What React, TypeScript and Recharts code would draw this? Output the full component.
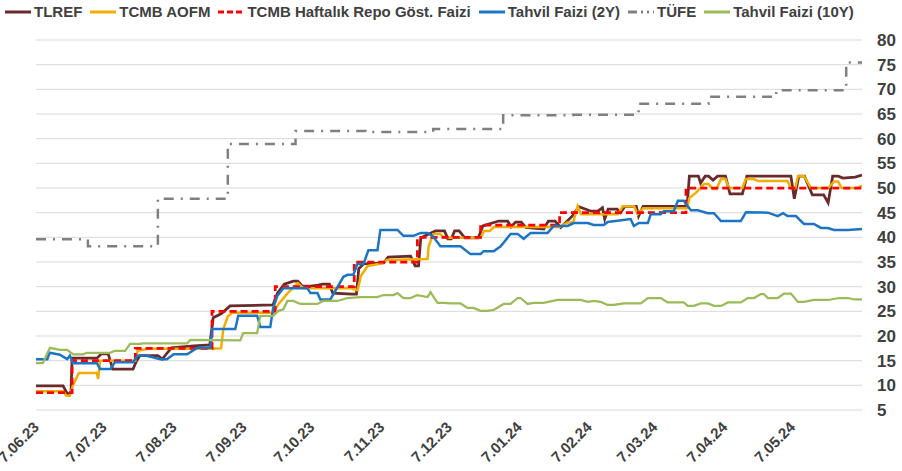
import { LineChart, Line, XAxis, YAxis, CartesianGrid } from 'recharts'

// x = days since 7 Jun 2023, y = percent
const X_TICKS = [0, 30, 61, 92, 122, 153, 183, 214, 245, 274, 305, 335]
const X_LABELS = ['7.06.23', '7.07.23', '7.08.23', '7.09.23', '7.10.23', '7.11.23', '7.12.23', '7.01.24', '7.02.24', '7.03.24', '7.04.24', '7.05.24']
const Y_TICKS = [5, 10, 15, 20, 25, 30, 35, 40, 45, 50, 55, 60, 65, 70, 75, 80]

const tlref: [number, number][] = [
  [0, 9.9], [12, 9.9], [14, 8.2], [15.5, 8.5], [16, 15.5], [27, 15.5], [29, 16.4], [32, 16.4], [34, 13.3], [43, 13.3],
  [44.5, 14.9], [46, 16], [54, 16], [56, 15.3], [58, 16.5], [60, 17.6], [70, 18], [77, 18.2], [78.5, 23.7], [82, 24.5],
  [86, 26.1], [105, 26.3], [107, 28.7], [110, 30.5], [114, 31.1], [116, 31.1], [118, 30.1], [122, 30.1], [125, 30.3],
  [127, 30.5], [130, 30.5], [131.5, 28.7], [140, 28.5], [142, 28.5], [143, 33.6], [145, 34.6], [154, 34.8], [156, 36],
  [166, 36.2], [168, 34.2], [169.5, 34.2], [170.5, 39.9], [177, 41.3], [181, 41.3], [182.5, 39.7], [184, 39.7],
  [185.5, 41.3], [187.5, 41.3], [190, 39.9], [196, 39.9], [198, 42.3], [205, 43.3], [209, 43.3], [210.5, 42.1],
  [212.5, 43.1], [215, 43.1], [217, 42], [225, 41.7], [227, 43.3], [230, 43.3], [232.5, 42], [238, 44.5], [240.5, 46.2],
  [246, 45.3], [249, 45.3], [251, 46], [252, 43.7], [253.5, 45.7], [257.5, 45.7], [259, 45], [261, 46.3], [266, 46.3],
  [267, 44.3], [269, 46.3], [288.5, 46.3], [289.5, 52.4], [293.5, 52.4], [294.5, 51], [296.5, 52.4], [298, 52.4],
  [300, 51.6], [302, 52.4], [305.5, 52.4], [307.5, 48.8], [313, 48.8], [315, 52.4], [334.5, 52.4], [336, 47.8],
  [338, 52.4], [340.5, 52.4], [344, 48.6], [349, 48.6], [351, 47], [353, 52.4], [355.5, 52.4], [357.5, 52],
  [363, 52.2], [366, 52.6],
]

const aofm: [number, number][] = [
  [0, 8.8], [12, 8.8], [13.5, 7.9], [15, 7.9], [16.5, 10.2], [19, 12.5], [27, 12.5], [27.5, 11.3], [28.4, 15], [44, 15],
  [45, 17], [50, 17.4], [77, 17.4], [82, 17.5], [83, 21.4], [85, 24], [87, 24.7], [105, 24.7], [107.5, 26.5],
  [111.5, 28.7], [116, 30.7], [118.5, 29.7], [139, 29.7], [142.5, 29.3], [144, 32.2], [147, 34.2], [153, 34.7],
  [155.5, 35.4], [173.5, 35.6], [174, 38.2], [176, 40.7], [179, 40.7], [181, 39.9], [197, 39.9], [198.5, 41.3],
  [201, 41.3], [203, 42.1], [232, 42.1], [235.5, 43], [238, 43], [240, 46.3], [241.5, 44.7], [257.8, 44.7], [260, 46.3],
  [265, 46.3], [266.6, 44.7], [269, 45.9], [288.5, 45.9], [289.5, 48], [292.4, 49], [296, 50.8], [298, 50.8],
  [300, 49.8], [301.5, 49.8], [303.5, 51.8], [305.5, 51.8], [307, 50], [313, 50], [314.5, 51.8], [318, 51.8],
  [320, 51.4], [333, 51.4], [334.5, 50], [336.5, 50], [337.6, 52.4], [340.3, 52.4], [343.4, 50], [351, 50],
  [353.6, 51.3], [355.4, 51.3], [357, 50], [364, 50], [366, 50.5],
]

const repo: [number, number][] = [
  [0, 8.5], [16, 15], [44, 17.5], [78, 25], [106, 30], [141, 35], [169, 40], [197, 42.5], [232, 45], [288, 50], [366, 50],
]

const bond2y: [number, number][] = [
  [0, 15.3], [5, 15.3], [6, 16.6], [10.6, 16.2], [13.8, 15.3], [15, 16], [16.4, 14.5], [27, 14.5], [28.4, 13.3],
  [33, 13.3], [35, 14.7], [43, 14.7], [45, 16], [49, 16], [55, 15.3], [58, 15.3], [61, 16.3], [67, 16.3], [71.4, 17.6],
  [77.2, 17.6], [78.1, 21.4], [88.3, 21.4], [89.6, 24.1], [98, 24.1], [99.4, 21.8], [103.8, 21.8], [105.1, 25.7],
  [106.9, 28.1], [109.6, 29.7], [120.2, 29.7], [121.6, 28.7], [124.7, 28.7], [126, 27.4], [130.4, 27.4], [131.8, 28.5],
  [136.2, 32], [138, 32.4], [140.6, 32.4], [142.4, 34.6], [145.1, 34.6], [147.3, 37.4], [151.3, 37.4], [152.6, 41.5],
  [160.2, 41.5], [162.8, 40.3], [167.3, 40.3], [170.4, 40.9], [173.5, 40.9], [175.7, 40.3], [179.2, 38.2], [188.1, 38.2],
  [192.5, 36.6], [197, 36.6], [198.3, 37.2], [202.8, 37.2], [205.9, 38.2], [210.3, 40.7], [213.4, 40.7], [216.1, 39.7],
  [219.2, 40.9], [226.7, 40.9], [229.4, 42.3], [235.6, 42.3], [238.2, 42.9], [244.5, 42.9], [247.1, 42.5], [251.6, 42.5],
  [253.3, 43.1], [263.5, 43.7], [264.9, 42.3], [267.1, 42.9], [271.1, 42.9], [272.4, 44.7], [276.8, 44.7], [278.2, 45.3],
  [282.6, 45.3], [284.4, 47.4], [287, 47.4], [288.8, 46.3], [290.2, 45.5], [293.3, 45.5], [297.7, 44.9], [300.4, 44.9],
  [303.5, 43.3], [312.3, 43.3], [314.6, 45.1], [324.3, 45], [328.7, 44.3], [331, 44.9], [333, 44.3], [336.7, 44.3],
  [340.3, 42.7], [344.7, 42.7], [347.8, 41.9], [350.9, 41.9], [353.6, 41.5], [359.8, 41.5], [366, 41.7],
]

const tufe: [number, number][] = [
  [0, 39.59], [23, 38.21], [54, 47.83], [85, 58.94], [115, 61.53], [146, 61.36], [176, 61.98], [207, 64.77],
  [238, 64.86], [267, 67.07], [298, 68.5], [328, 69.8], [359, 75.45], [366, 75.45],
]

const bond10y: [number, number][] = [
  [0, 14.5], [3, 14.5], [6.2, 17.6], [10.6, 17.2], [13.8, 17.2], [16.4, 16.3], [20.9, 16.3], [22.6, 16.6], [32.8, 16.6],
  [35, 17], [39.5, 17], [41.7, 18.4], [46.1, 18.4], [47.5, 18.5], [67, 18.5], [68.3, 19.2], [90.5, 19.1], [91.8, 20.6],
  [98, 20.6], [99.4, 24.1], [105.1, 24.1], [107.4, 25.1], [109.6, 25.4], [111.4, 27.1], [114, 27.1], [117.1, 26.5],
  [124.7, 26.5], [127.3, 27.1], [133.5, 27.1], [138, 27.7], [143.7, 27.9], [151.3, 27.9], [153.9, 28.3], [158.4, 28.3],
  [160.2, 28.7], [162.8, 27.7], [165.9, 27.7], [169, 28.3], [173.5, 27.9], [174.8, 28.9], [177.9, 26.7], [180.6, 26.7],
  [183.7, 26.6], [188.1, 26.6], [191.2, 25.7], [193.9, 25.7], [197, 25.1], [200.1, 25.1], [202.8, 25.3], [207.2, 26.5],
  [210.3, 26.5], [213.4, 27.7], [214.7, 27.7], [217.8, 26.5], [220.5, 26.7], [224.9, 26.7], [231.1, 27.3], [241.3, 27.3],
  [244.5, 26.9], [247.1, 27.1], [250.2, 26.9], [253.3, 26.3], [256, 26.3], [260.4, 26.6], [268, 26.6], [271.1, 27.7],
  [276.8, 27.7], [279.9, 26.8], [287, 26.8], [288.8, 26.1], [291.5, 26.1], [294.6, 26.6], [297.7, 26.6], [300.4, 26.1],
  [303.5, 26.1], [306.6, 26.8], [312.3, 26.8], [315.4, 27.7], [318.1, 27.7], [321.2, 28.5], [322.5, 28.5], [324.3, 27.7],
  [328.7, 27.7], [331.4, 28.6], [334.5, 28.6], [337.6, 26.9], [340.3, 26.9], [344.7, 27.3], [350.9, 27.3], [356, 27.7],
  [359.8, 27.7], [362.5, 27.4], [366, 27.4],
]

const FONT = '"Liberation Sans", Arial, sans-serif'
const TEXT = '#404040'

const rows = (arr: [number, number][]) => arr.map(([d, v]) => ({ d, v }))

const SERIES = [
  { name: 'TLREF', data: tlref, color: '#682a2a', width: 2.75, dash: undefined, legendDash: undefined, type: 'linear' },
  { name: 'TCMB AOFM', data: aofm, color: '#f2ae00', width: 2.5, dash: undefined, legendDash: undefined, type: 'linear' },
  { name: 'TCMB Haftalık Repo Göst. Faizi', data: repo, color: '#ff0000', width: 2.75, dash: '7 4', legendDash: '6 3', type: 'stepAfter' },
  { name: 'Tahvil Faizi (2Y)', data: bond2y, color: '#1b75c4', width: 2.5, dash: undefined, legendDash: undefined, type: 'linear' },
  { name: 'TÜFE', data: tufe, color: '#808080', width: 2.5, dash: '10 7 2 7', legendDash: '9 4 2 4 2 4', type: 'stepAfter' },
  { name: 'Tahvil Faizi (10Y)', data: bond10y, color: '#9bbb59', width: 2.25, dash: undefined, legendDash: undefined, type: 'linear' },
]

function XTick({ x, y, payload }: any) {
  const i = X_TICKS.indexOf(payload.value)
  const tx = x + 4
  const ty = y + 10
  return (
    <text x={tx} y={ty} transform={`rotate(-45, ${tx}, ${ty})`} textAnchor="end"
      fontFamily={FONT} fontWeight="bold" fontSize={15} fill={TEXT}>
      {X_LABELS[i]}
    </text>
  )
}

function YTick({ x, y, payload }: any) {
  return (
    <text x={x + 7} y={y} dy="0.36em" textAnchor="start" fontFamily={FONT} fontWeight="bold" fontSize={17} fill={TEXT}>
      {payload.value}
    </text>
  )
}

function ChartLegend() {
  return (
    <div style={{ position: 'absolute', left: 5, top: 3, display: 'flex', alignItems: 'center', gap: 8,
      fontFamily: FONT, fontWeight: 'bold', fontSize: 15, color: TEXT, whiteSpace: 'nowrap' }}>
      {SERIES.map(s => (
        <div key={s.name} style={{ display: 'flex', alignItems: 'center' }}>
          <svg width={26} height={10} style={{ marginRight: 3 }}>
            <line x1={0} y1={5} x2={26} y2={5} stroke={s.color} strokeWidth={3} strokeDasharray={s.legendDash} />
          </svg>
          <span>{s.name}</span>
        </div>
      ))}
    </div>
  )
}

export default function App() {
  return (
    <div style={{ position: 'absolute', left: 0, top: 0, width: 902, height: 471, background: '#fff' }}>
      <LineChart width={902} height={471} margin={{ top: 40, right: 0, bottom: 0, left: 36 }}>
        <CartesianGrid horizontal vertical={false} stroke="#d9d9d9" strokeWidth={1} />
        <XAxis dataKey="d" type="number" domain={[0, 366]} ticks={X_TICKS} interval={0} allowDataOverflow
          axisLine={false} tickLine={false} height={61} tick={<XTick />} />
        <YAxis orientation="right" type="number" domain={[5, 80]} ticks={Y_TICKS} interval={0}
          axisLine={false} tickLine={false} width={40} tick={<YTick />} />
        {SERIES.map(s => (
          <Line key={s.name} data={rows(s.data)} dataKey="v" name={s.name} type={s.type as any}
            stroke={s.color} strokeWidth={s.width} strokeDasharray={s.dash} dot={false}
            activeDot={false} isAnimationActive={false} />
        ))}
      </LineChart>
      <ChartLegend />
    </div>
  )
}
